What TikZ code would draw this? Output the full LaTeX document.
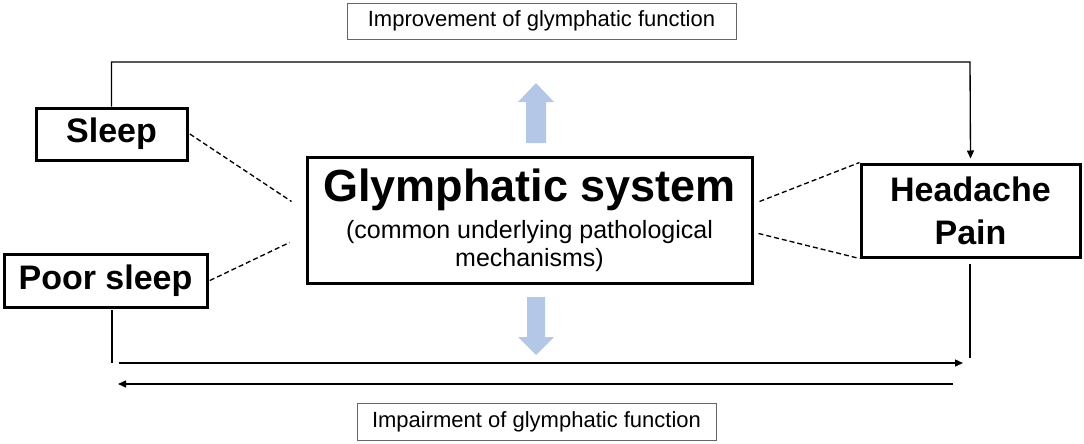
\documentclass[tikz,border=0pt]{standalone}
\usepackage{fontspec}
\setmainfont{Liberation Sans}
\definecolor{arrowblue}{RGB}{180,199,231}
\usetikzlibrary{arrows.meta,positioning,calc}

\begin{document}
\begin{tikzpicture}[x=0.75pt,y=-0.75pt,
    mainbox/.style={draw,line width=2.25pt,align=center,inner sep=0pt,
      font=\fontsize{25.5}{32.25}\selectfont\bfseries},
    labelbox/.style={draw=black!60,line width=0.75pt,inner sep=0pt,
      font=\fontsize{16.5}{19}\selectfont},
    conn/.style={line width=1pt},
    endarrow/.style={-{Triangle[length=6pt,width=5.25pt]}},
    dashline/.style={line width=1pt,dash pattern=on 3.75pt off 2.25pt},
    fatarrow/.style={fill=arrowblue}
    ]
    \useasboundingbox (0,0) rectangle (1084,443);

    \node (sleep) [mainbox,minimum width=113.25pt,minimum height=39pt] at (111.5,134) {Sleep};
    \node (poor) [mainbox,minimum width=152.25pt,minimum height=39.75pt] at (105.5,280.5) {Poor sleep};
    \node (glym) [mainbox,minimum width=333.75pt,minimum height=94.5pt,
      font=\fontsize{18.75}{21}\selectfont] at (529.5,220)
      {{\fontsize{33.75}{40}\selectfont\bfseries Glymphatic system}\\[6.75pt]
       (common underlying pathological\\mechanisms)};
    \node (pain) [mainbox,minimum width=164.25pt,minimum height=69.75pt] at (970.5,210.5) {Headache\\Pain};
    \node (improve) [labelbox,minimum width=291.75pt,minimum height=27pt] at (541.5,21) {Improvement of glymphatic function};
    \node (impair) [labelbox,minimum width=269.25pt,minimum height=27.75pt] at (536.5,421.5) {Impairment of glymphatic function};

    % the loop over the top
    \draw[conn,endarrow] (sleep.north) |- (970,62) -- ([yshift=3pt]pain.north);

    % the two arrows at the bottom
    \coordinate (pl) at (112,363);
    \coordinate (pr) at (970,358);
    \draw[conn] ([yshift=-1pt]poor.south -| pl) -- (pl);
    \draw[conn] ([yshift=-4pt]pain.south -| pr) -- (pr);
    \coordinate (a1) at (119,363);
    \coordinate (a2) at (963,363);
    \coordinate (b1) at (953,384);
    \coordinate (b2) at (118,384);
    \draw[conn,endarrow] (a1) -- (a2);
    \draw[conn,endarrow] (b1) -- (b2);

    % dashed links to the centre
    \draw[dashline] ([xshift=1pt]sleep.east) -- ($(glym.north west)+(-14,46)$);
    \draw[dashline] ([xshift=1pt]poor.east) -- ($(glym.north west)+(-16,87)$);
    \draw[dashline] ($(glym.north east)+(6,46)$) -- (pain.north west);
    \draw[dashline] ($(glym.north east)+(5,78)$) -- (pain.south west);

    % blue arrows
    \fill[fatarrow] (526,143) -- (526,102) -- (518,102) -- (536,83)
      -- (554,102) -- (546,102) -- (546,143) -- cycle;
    \fill[fatarrow] (527,297) -- (527,337) -- (518,337) -- (536,355)
      -- (554,337) -- (545,337) -- (545,297) -- cycle;
\end{tikzpicture}
\end{document}
